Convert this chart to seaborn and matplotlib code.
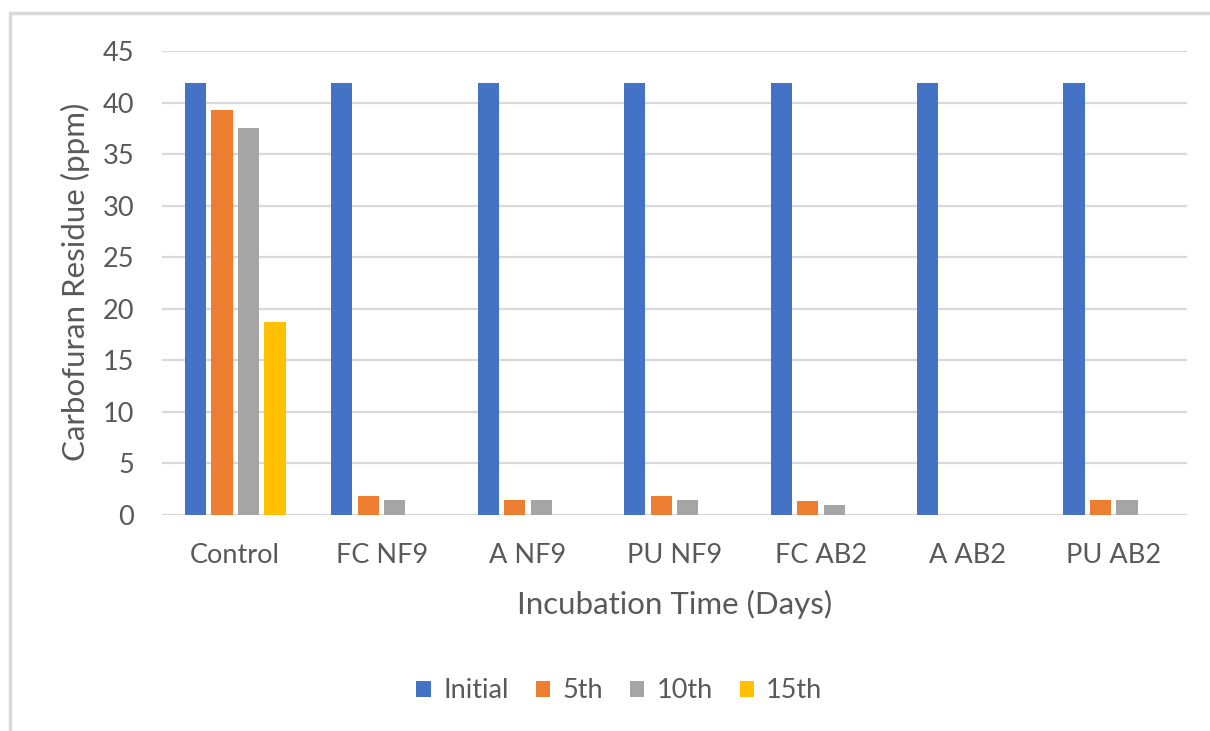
import matplotlib
matplotlib.use("Agg")
import matplotlib.pyplot as plt
from matplotlib.lines import Line2D
import seaborn as sns
import pandas as pd

# Carbofuran residue (ppm) per treatment and sampling day
categories = ["Control", "FC NF9", "A NF9", "PU NF9", "FC AB2", "A AB2", "PU AB2"]
series_names = ["Initial", "5th", "10th", "15th"]
initial = [41.9, 41.9, 41.9, 41.9, 41.9, 41.9, 41.9]
day5 = [39.3, 1.8, 1.5, 1.8, 1.4, 0.0, 1.5]
day10 = [37.5, 1.5, 1.5, 1.5, 1.0, 0.0, 1.5]
day15 = [18.7, 0.0, 0.0, 0.0, 0.0, 0.0, 0.0]
y_ticks = [0, 5, 10, 15, 20, 25, 30, 35, 40, 45]

colors = ["#4472C4", "#ED7D31", "#A5A5A5", "#FFC000"]
text_color = "#595959"
grid_color = "#D9D9D9"

rows = []
for name, vals in zip(series_names, [initial, day5, day10, day15]):
    for cat, v in zip(categories, vals):
        rows.append({"Treatment": cat, "Sample": name, "Residue": v})
df = pd.DataFrame(rows)

sns.set_theme(style="white")
plt.rcParams["font.family"] = ["Lato", "DejaVu Sans"]

fig = plt.figure(figsize=(12.10, 7.31), dpi=100)
ax = fig.add_axes([162 / 1210, 1 - 515 / 731, (1187 - 162) / 1210, (515 - 51) / 731])

sns.barplot(
    data=df, x="Treatment", y="Residue", hue="Sample",
    order=categories, hue_order=series_names, palette=colors,
    width=0.724, gap=0.2, linewidth=0, saturation=1, ax=ax, legend=False,
)

ax.set_ylim(0, 45)
ax.set_yticks(y_ticks)
ax.set_axisbelow(True)
ax.yaxis.grid(True, color=grid_color, linewidth=1.6)
ax.xaxis.grid(False)
for s in ax.spines.values():
    s.set_visible(False)

ax.tick_params(axis="both", length=0, labelsize=19.5, colors=text_color)
ax.tick_params(axis="y", pad=20)
ax.tick_params(axis="x", pad=20)

ax.set_xlabel("Incubation Time (Days)", fontsize=22.5, color=text_color)
ax.set_ylabel("Carbofuran Residue (ppm)", fontsize=22.5, color=text_color)
ax.xaxis.set_label_coords(0.5, (515 - 604) / 464)
ax.xaxis.label.set_va("center")
ax.yaxis.set_label_coords((75 - 162) / 1025, (515 - 282) / 464)
ax.yaxis.label.set_va("center")

handles = [
    plt.Rectangle((0, 0), 1, 1, facecolor=c, edgecolor="none") for c in colors
]
fig.legend(
    handles, series_names, loc="center", bbox_to_anchor=(0.512, 1 - 691 / 731),
    ncol=4, frameon=False, fontsize=19.5, labelcolor=text_color,
    handlelength=0.53, handleheight=0.53, handletextpad=0.45, columnspacing=1.0,
)

# chart-area frame (top and left edges)
fig.add_artist(Line2D([10 / 1210, 1.0], [1 - 13 / 731, 1 - 13 / 731],
                      transform=fig.transFigure, color=grid_color, linewidth=2.5))
fig.add_artist(Line2D([10 / 1210, 10 / 1210], [0.0, 1 - 13 / 731],
                      transform=fig.transFigure, color=grid_color, linewidth=2.5))

fig.savefig("out.png", dpi=100, facecolor="white")
